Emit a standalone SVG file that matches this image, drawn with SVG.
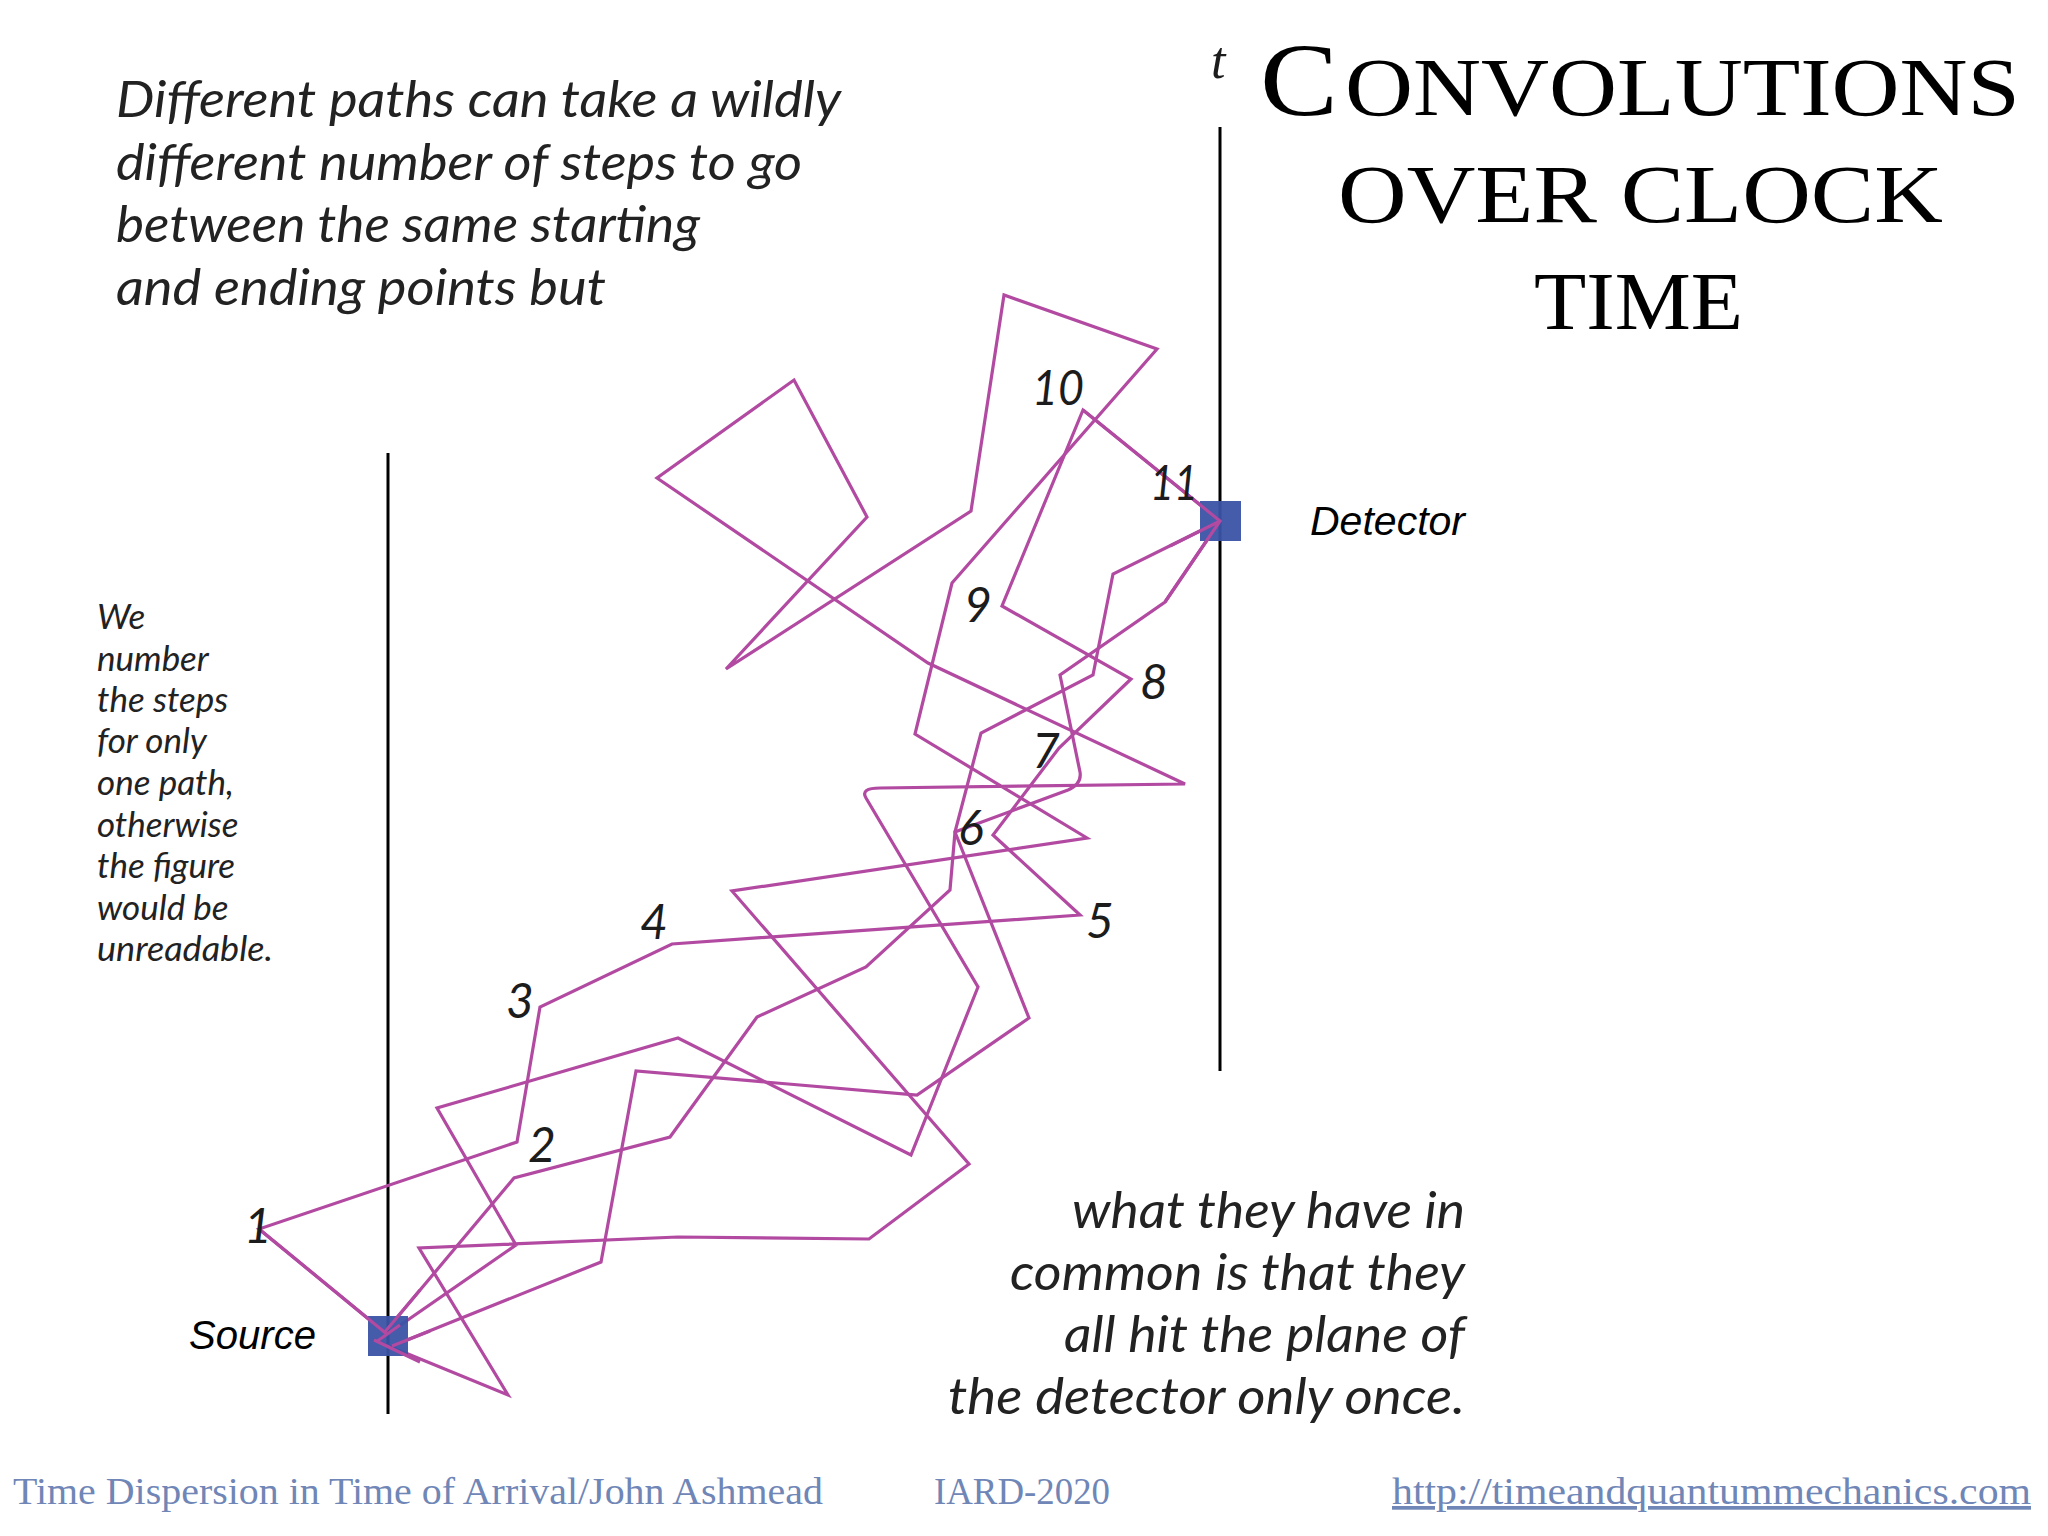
<svg xmlns="http://www.w3.org/2000/svg" width="2048" height="1536" viewBox="0 0 2048 1536">
  <style>
    .body { font-family: Lato, "Open Sans", "DejaVu Sans", sans-serif; font-style: italic; font-weight: 400; fill: #222222; }
    .para { font-size: 50px; }
    .small { font-size: 35px; }
    .num { font-family: Lato, "Open Sans", sans-serif; font-style: italic; font-weight: 400; font-size: 48px; fill: #1c1c1c; }
    .title { font-family: "Liberation Serif", "DejaVu Serif", serif; fill: #000; }
    .lbl { font-family: "Liberation Sans", Arial, sans-serif; font-style: italic; font-size: 41px; fill: #000; }
    .foot { font-family: "Liberation Serif", "DejaVu Serif", serif; font-size: 37px; fill: #6f86b6; }
    .axis { stroke: #000; stroke-width: 3; fill: none; }
    .path { stroke: #b24aa2; stroke-width: 3.2; fill: none; stroke-linejoin: miter; }
    .box { fill: #3a53a4; }
  </style>

  <rect x="0" y="0" width="2048" height="1536" fill="#ffffff"/>

  <!-- axes -->
  <g id="axes">
    <line class="axis" x1="388" y1="453" x2="388" y2="1414"/>
    <line class="axis" x1="1220" y1="127" x2="1220" y2="1071"/>
    <text x="1211" y="78" font-family="Liberation Serif, serif" font-style="italic" font-size="52" fill="#1c1c1c">t</text>
  </g>

  <!-- connectors: random paths -->
  <g id="connectors">
    <path class="path" d="M388,1335 L259,1229 L517,1142 L540,1007 L672,944 L1080,915 L993,835 L1059,748 L1131,679 L1002,606 L1083,410 L1220,521"/>
    <path class="path" d="M384,1333 L514,1178 L670,1137 L757,1017 L866,967 L950,890 L955,832 L1068,790 Q1082,784 1080,772 L1060,675 L1165,602 L1220,521"/>
    <path class="path" d="M392,1346 L601,1262 L636,1071 L917,1095 L1029,1018 L955,832 L981,733 L1093,675 L1113,574 L1220,521"/>
    <path class="path" d="M376,1342 L516,1245 L437,1108 L678,1038 L911,1155 L978,987 L866,798 Q860,788 880,788 L1185,784 L928,663 L657,478 L794,380 L867,517 L726,669 L971,511 L1004,295 L1157,349 L952,583 L915,734 L1087,838 L732,891 L969,1164 L869,1239 L678,1237 L419,1248 L508,1395 L374,1340"/>
  </g>

  <!-- source node -->
  <g id="source">
    <rect class="box" x="368" y="1316" width="40" height="40" fill-opacity="0.95"/>
    <text class="lbl" x="189" y="1349" textLength="127" lengthAdjust="spacingAndGlyphs">Source</text>
  </g>

  <!-- detector node -->
  <g id="detector">
    <rect class="box" x="1200" y="501" width="41" height="40" fill-opacity="0.95"/>
    <text class="lbl" x="1310" y="535" textLength="155" lengthAdjust="spacingAndGlyphs">Detector</text>
  </g>

  <!-- path ends drawn over boxes -->
  <g id="path-ends">
    <path class="path" d="M259,1229 L388,1335 M384,1333 L420,1290 M392,1346 L430,1331 M376,1342 L400,1325 M374,1340 L420,1362 M1083,410 L1220,521 L1165,602 M1220,521 L1170,546"/>
  </g>

  <!-- step numbers -->
  <g id="step-numbers">
    <text class="num" x="244" y="1243">1</text>
    <text class="num" x="528" y="1162">2</text>
    <text class="num" x="506" y="1018">3</text>
    <text class="num" x="640" y="939">4</text>
    <text class="num" x="1086" y="938">5</text>
    <text class="num" x="958" y="845">6</text>
    <text class="num" x="1032" y="768">7</text>
    <text class="num" x="1140" y="699">8</text>
    <text class="num" x="964" y="622">9</text>
    <text class="num" x="1032" y="405" textLength="52" lengthAdjust="spacingAndGlyphs">10</text>
    <text class="num" x="1150" y="500" textLength="48" lengthAdjust="spacingAndGlyphs">11</text>
  </g>

  <!-- title -->
  <g id="title">
    <text class="title" x="1260" y="115" font-size="104" textLength="78" lengthAdjust="spacingAndGlyphs">C</text>
    <text class="title" x="1345" y="115" font-size="83" textLength="675" lengthAdjust="spacingAndGlyphs">ONVOLUTIONS</text>
    <text class="title" x="1338" y="222" font-size="83" textLength="605" lengthAdjust="spacingAndGlyphs">OVER CLOCK</text>
    <text class="title" x="1534" y="329" font-size="83" textLength="209" lengthAdjust="spacingAndGlyphs">TIME</text>
  </g>

  <!-- top paragraph -->
  <g id="intro-text" class="body para">
    <text x="116" y="117" textLength="725" lengthAdjust="spacingAndGlyphs">Different paths can take a wildly</text>
    <text x="116" y="180" textLength="686" lengthAdjust="spacingAndGlyphs">different number of steps to go</text>
    <text x="116" y="242" textLength="584" lengthAdjust="spacingAndGlyphs">between the same starting</text>
    <text x="116" y="305" textLength="490" lengthAdjust="spacingAndGlyphs">and ending points but</text>
  </g>

  <!-- side note -->
  <g id="side-note" class="body small">
    <text x="97" y="629">We</text>
    <text x="97" y="671">number</text>
    <text x="97" y="712">the steps</text>
    <text x="97" y="753">for only</text>
    <text x="97" y="795">one path,</text>
    <text x="97" y="837">otherwise</text>
    <text x="97" y="878">the figure</text>
    <text x="97" y="920">would be</text>
    <text x="97" y="961" textLength="176" lengthAdjust="spacingAndGlyphs">unreadable.</text>
  </g>

  <!-- bottom right paragraph -->
  <g id="conclusion-text" class="body para">
    <text x="1072" y="1228" textLength="393" lengthAdjust="spacingAndGlyphs">what they have in</text>
    <text x="1010" y="1290" textLength="455" lengthAdjust="spacingAndGlyphs">common is that they</text>
    <text x="1064" y="1352" textLength="401" lengthAdjust="spacingAndGlyphs">all hit the plane of</text>
    <text x="948" y="1414" textLength="517" lengthAdjust="spacingAndGlyphs">the detector only once.</text>
  </g>

  <!-- footer -->
  <g id="footer" class="foot">
    <text x="13" y="1504" textLength="810" lengthAdjust="spacingAndGlyphs">Time Dispersion in Time of Arrival/John Ashmead</text>
    <text x="934" y="1504" textLength="176" lengthAdjust="spacingAndGlyphs">IARD-2020</text>
    <text x="1392" y="1504" textLength="639" lengthAdjust="spacingAndGlyphs" text-decoration="underline">http://timeandquantummechanics.com</text>
  </g>
</svg>
